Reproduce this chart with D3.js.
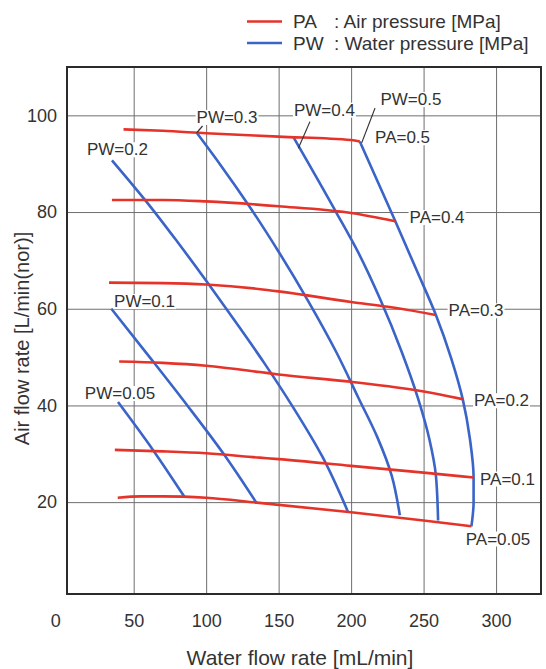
<!DOCTYPE html>
<html>
<head>
<meta charset="utf-8">
<script src="https://cdn.jsdelivr.net/npm/d3@7"></script>
<style>
  body { margin: 0; background: #fff; }
  svg text { font-family: "Liberation Sans", Arial, sans-serif; fill: #333; }
</style>
</head>
<body>
<svg id="chart" width="546" height="669"></svg>
<script>
// values: [water flow mL/min, air flow L/min(nor)]
const paLevels = ['0.5', '0.4', '0.3', '0.2', '0.1', '0.05'];
const paCurves = [
  [[43, 97.1], [70, 96.8], [100, 96.3], [150, 95.6], [200, 94.9], [206, 94.6]],
  [[35, 82.5], [70, 82.5], [100, 82.2], [150, 81.2], [200, 79.8], [230.5, 78.1]],
  [[33, 65.4], [70, 65.3], [100, 65.0], [136, 64.1], [150, 63.6], [200, 61.4], [230, 60.2], [258.5, 58.7]],
  [[40, 49.1], [70, 48.8], [100, 48.2], [137, 46.9], [150, 46.4], [200, 44.9], [250, 42.9], [277, 41.3]],
  [[37, 30.8], [70, 30.5], [100, 30.1], [137, 29.2], [150, 28.9], [200, 27.5], [250, 26.1], [284.5, 25.1]],
  [[39, 20.9], [55, 21.2], [70, 21.2], [100, 20.9], [135, 19.9], [200, 17.9], [250, 16.2], [283, 15.0]]
];

const pwLevels = ['0.05', '0.1', '0.2', '0.3', '0.4', '0.5'];
const pwCurves = [
  [[39.2, 40.7], [63.3, 30.8], [85, 21.1]],
  [[34.6, 60], [61, 50], [87, 40], [112, 30], [134.6, 19.9]],
  [[35, 90.7], [60, 81.7], [80, 73.9], [100, 65.8], [120, 57.4], [140, 48.8], [160, 39.6], [180, 29.5], [197.7, 18.1]],
  [[93.5, 96.4], [110, 89.7], [130, 81.1], [150, 71.8], [170, 61.8], [190, 50.9], [205, 41.6], [218, 33.5], [228, 25.5], [233.6, 17.3]],
  [[160.4, 95.4], [190, 79.8], [205, 71.6], [220, 62], [235, 51], [246, 41.6], [254, 33], [258.5, 25.5], [260, 16.2]],
  [[206, 94.6], [230.5, 78.1], [245, 68.1], [258.5, 58.7], [269, 49.8], [277, 41.3], [282, 33], [284.5, 25.1], [284.5, 20], [283, 15]]
];

const xTicks = [0, 50, 100, 150, 200, 250, 300];
const yTicks = [20, 40, 60, 80, 100];

// curve labels: [text, x, y] in data units
const labels = [
  ['PW=0.05', 40.6, 42.6], ['PW=0.1', 57.5, 61.6], ['PW=0.2', 38.8, 93.0],
  ['PW=0.3', 114.4, 99.7], ['PW=0.4', 181.6, 101.2], ['PW=0.5', 241.3, 103.4],
  ['PA=0.5', 235.5, 95.5], ['PA=0.4', 259.3, 79.0], ['PA=0.3', 286.2, 59.7],
  ['PA=0.2', 303.8, 41.1], ['PA=0.1', 307.9, 24.9], ['PA=0.05', 301.3, 12.5]
];
const leaders = [
  [[97.5, 97.8], [93.5, 96.4]],
  [[171.6, 98.7], [163.6, 93.2]],
  [[216.5, 101.5], [207.3, 94.3]]
];

const RED = '#e5332a';
const BLUE = '#3a64c8';

const svg = d3.select('#chart');
const pLeft = 67, pRight = 541, pTop = 67, pBottom = 594;

const x = d3.scaleLinear().domain([4, 331]).range([pLeft, pRight]);
const y = d3.scaleLinear().domain([1, 110]).range([pBottom, pTop]);

// grid
svg.append('g')
  .attr('transform', `translate(0, ${pBottom})`)
  .call(d3.axisBottom(x).tickValues(xTicks.slice(1)).tickSize(-(pBottom - pTop)).tickFormat(''))
  .call(g => g.select('.domain').remove())
  .call(g => g.selectAll('line').attr('stroke', '#6e6e6e').attr('stroke-width', 1));

svg.append('g')
  .attr('transform', `translate(${pLeft}, 0)`)
  .call(d3.axisLeft(y).tickValues(yTicks).tickSize(-(pRight - pLeft)).tickFormat(''))
  .call(g => g.select('.domain').remove())
  .call(g => g.selectAll('line').attr('stroke', '#6e6e6e').attr('stroke-width', 1));

// tick labels
svg.append('g')
  .attr('transform', `translate(0, ${pBottom})`)
  .call(d3.axisBottom(x).tickValues(xTicks).tickSize(0).tickPadding(20))
  .call(g => g.select('.domain').remove())
  .call(g => g.selectAll('text')
    .attr('font-size', 18)
    .attr('dx', d => d === 0 ? -6 : 0));

svg.append('g')
  .attr('transform', `translate(${pLeft}, 0)`)
  .call(d3.axisLeft(y).tickValues(yTicks).tickSize(0).tickPadding(10))
  .call(g => g.select('.domain').remove())
  .call(g => g.selectAll('text').attr('font-size', 18));

// curves: PA lines run left to right, PW lines run top to bottom
const paLine = d3.line()
  .x(d => x(d[0]))
  .y(d => y(d[1]))
  .curve(d3.curveMonotoneX);

const pwLine = d3.line()
  .x(d => x(d[0]))
  .y(d => y(d[1]))
  .curve(d3.curveMonotoneY);

svg.append('g').selectAll('path')
  .data(pwCurves)
  .join('path')
  .attr('d', pwLine)
  .attr('fill', 'none')
  .attr('stroke', BLUE)
  .attr('stroke-width', 2.6);

svg.append('g').selectAll('path')
  .data(paCurves)
  .join('path')
  .attr('d', paLine)
  .attr('fill', 'none')
  .attr('stroke', RED)
  .attr('stroke-width', 2.6);

// leader lines
svg.append('g').selectAll('line')
  .data(leaders)
  .join('line')
  .attr('x1', d => x(d[0][0])).attr('y1', d => y(d[0][1]))
  .attr('x2', d => x(d[1][0])).attr('y2', d => y(d[1][1]))
  .attr('stroke', '#333')
  .attr('stroke-width', 1.2);

// curve labels with white boxes over the grid
const lab = svg.append('g').selectAll('g')
  .data(labels)
  .join('g');
lab.append('text')
  .attr('x', d => x(d[1]))
  .attr('y', d => y(d[2]))
  .attr('dy', '0.36em')
  .attr('text-anchor', 'middle')
  .attr('font-size', 17)
  .text(d => d[0]);
lab.each(function () {
  const g = d3.select(this);
  const b = g.select('text').node().getBBox();
  g.insert('rect', 'text')
    .attr('x', b.x - 1).attr('y', b.y + 2)
    .attr('width', b.width + 2).attr('height', b.height - 4)
    .attr('fill', '#fff');
});

// frame
svg.append('rect')
  .attr('x', pLeft).attr('y', pTop)
  .attr('width', pRight - pLeft).attr('height', pBottom - pTop)
  .attr('fill', 'none')
  .attr('stroke', '#2b2b2b')
  .attr('stroke-width', 2);

// axis titles
svg.append('text')
  .attr('transform', `translate(22, ${(pTop + pBottom) / 2 + 8}) rotate(-90)`)
  .attr('text-anchor', 'middle')
  .attr('dy', '0.36em')
  .attr('font-size', 20)
  .text('Air flow rate [L/min(nor)]');

svg.append('text')
  .attr('x', 300)
  .attr('y', 657)
  .attr('dy', '0.36em')
  .attr('text-anchor', 'middle')
  .attr('font-size', 21)
  .text('Water flow rate [mL/min]');

// legend
const legendItems = [
  { key: 'PA', text: ': Air pressure [MPa]', color: RED },
  { key: 'PW', text: ': Water pressure [MPa]', color: BLUE }
];
const lg = svg.append('g').selectAll('g')
  .data(legendItems)
  .join('g')
  .attr('transform', (d, i) => `translate(0, ${21.5 + i * 21.5})`);
lg.append('line')
  .attr('x1', 247).attr('x2', 282)
  .attr('stroke', d => d.color)
  .attr('stroke-width', 2.6);
lg.append('text')
  .attr('x', 293).attr('dy', '0.36em')
  .attr('font-size', 19)
  .text(d => d.key);
lg.append('text')
  .attr('x', 334).attr('dy', '0.36em')
  .attr('font-size', 19)
  .text(d => d.text);
</script>
</body>
</html>
